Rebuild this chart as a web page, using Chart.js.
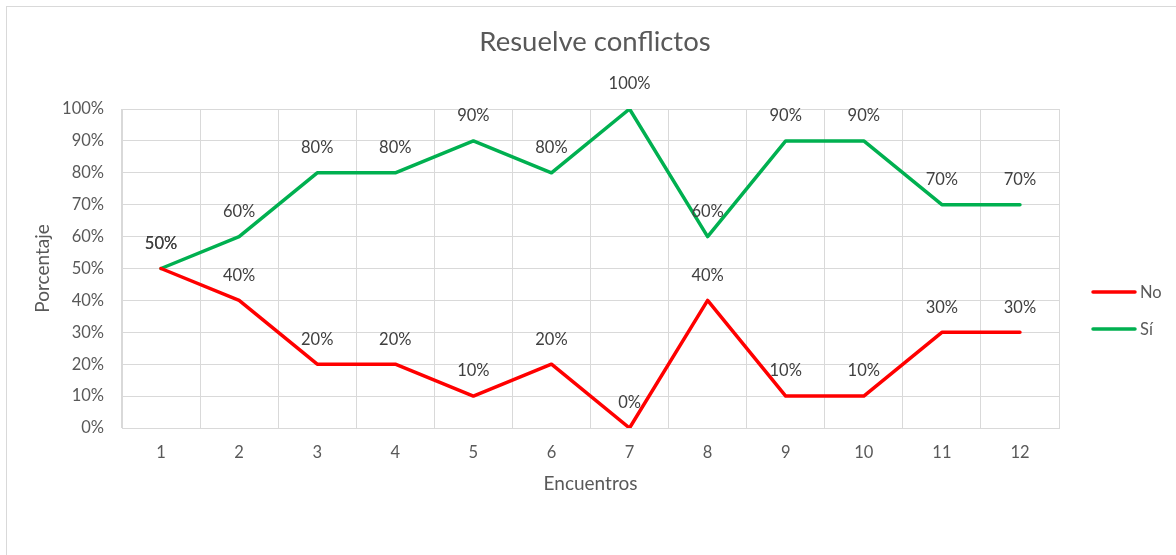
<!DOCTYPE html>
<html>
<head>
<meta charset="utf-8">
<script src="https://cdn.jsdelivr.net/npm/chart.js@4.4.1/dist/chart.umd.min.js"></script>
<style>
  html, body { margin: 0; padding: 0; background: #fff; overflow: hidden; }
  #wrap { position: relative; width: 1176px; height: 555px; }
  #frame { position: absolute; left: 6px; top: 6px; width: 1200px; height: 600px; border: 1px solid #d9d9d9; box-sizing: border-box; pointer-events: none; }
  canvas { position: absolute; left: 0; top: 0; }
</style>
</head>
<body>
<div id="wrap">
  <canvas id="c" width="1176" height="555"></canvas>
  <div id="frame"></div>
</div>
<script>
const titleText = 'Resuelve conflictos';
const categories = ['1','2','3','4','5','6','7','8','9','10','11','12'];
const noValues = [50, 40, 20, 20, 10, 20, 0, 40, 10, 10, 30, 30];
const siValues = [50, 60, 80, 80, 90, 80, 100, 60, 90, 90, 70, 70];
const seriesNames = ['No', 'Sí'];
const seriesColors = ['#FF0000', '#00B050'];
const yTitle = 'Porcentaje';
const xTitle = 'Encuentros';

const FONT = 'Lato, Carlito, Calibri, "Open Sans", sans-serif';

const labelsPlugin = {
  id: 'valueLabels',
  afterDatasetsDraw(chart) {
    const ctx = chart.ctx;
    ctx.save();
    ctx.font = '16.5px ' + FONT;
    ctx.fillStyle = '#404040';
    ctx.textAlign = 'center';
    ctx.textBaseline = 'middle';
    chart.data.datasets.forEach((ds, i) => {
      const meta = chart.getDatasetMeta(i);
      meta.data.forEach((pt, j) => {
        ctx.fillText(ds.data[j] + '%', pt.x, pt.y - 25);
      });
    });
    ctx.restore();
  }
};

const decoPlugin = {
  id: 'deco',
  afterDraw(chart) {
    const ctx = chart.ctx;
    ctx.save();
    // title
    ctx.font = '27.5px ' + FONT;
    ctx.fillStyle = '#595959';
    ctx.textAlign = 'center';
    ctx.textBaseline = 'middle';
    ctx.fillText(titleText, 595, 42);
    // legend
    ctx.font = '16.5px ' + FONT;
    ctx.textAlign = 'left';
    chart.data.datasets.forEach((ds, i) => {
      const y = 292 + i * 37;
      ctx.strokeStyle = ds.borderColor;
      ctx.lineWidth = 3.5;
      ctx.lineCap = 'round';
      ctx.beginPath();
      ctx.moveTo(1093, y);
      ctx.lineTo(1135, y);
      ctx.stroke();
      ctx.fillStyle = '#595959';
      ctx.fillText(ds.label, 1140, y + 1);
    });
    ctx.restore();
  }
};

new Chart(document.getElementById('c'), {
  type: 'line',
  data: {
    labels: categories,
    datasets: [
      { label: seriesNames[0], data: noValues, borderColor: seriesColors[0], backgroundColor: seriesColors[0] },
      { label: seriesNames[1], data: siValues, borderColor: seriesColors[1], backgroundColor: seriesColors[1] }
    ]
  },
  options: {
    responsive: false,
    animation: false,
    devicePixelRatio: 1,
    layout: { padding: { left: 0, right: 117, top: 109, bottom: 0 } },
    elements: {
      line: { borderWidth: 3.5, tension: 0, borderJoinStyle: 'round', borderCapStyle: 'round' },
      point: { radius: 0, hoverRadius: 0 }
    },
    plugins: {
      legend: { display: false },
      title: { display: false },
      tooltip: { enabled: false }
    },
    scales: {
      x: {
        offset: true,
        grid: { offset: true, color: '#d9d9d9', lineWidth: 1, drawTicks: false },
        border: { color: '#d9d9d9' },
        ticks: { color: '#595959', font: { family: FONT, size: 16.5 }, padding: 14.5 },
        title: { display: true, text: xTitle, color: '#595959', font: { family: FONT, size: 19 }, padding: { top: 0, bottom: 59.5 } },
        afterFit(scale) { scale.height = 127; }
      },
      y: {
        min: 0, max: 100,
        ticks: { stepSize: 10, color: '#595959', font: { family: FONT, size: 16.5 }, padding: 18, callback: v => v + '%' },
        grid: { color: '#d9d9d9', lineWidth: 1, drawTicks: false },
        border: { color: '#d9d9d9' },
        title: { display: true, text: yTitle, color: '#595959', font: { family: FONT, size: 19 }, padding: { top: 31, bottom: 0 } },
        afterFit(scale) { scale.width = 122; }
      }
    }
  },
  plugins: [labelsPlugin, decoPlugin]
});
</script>
</body>
</html>
